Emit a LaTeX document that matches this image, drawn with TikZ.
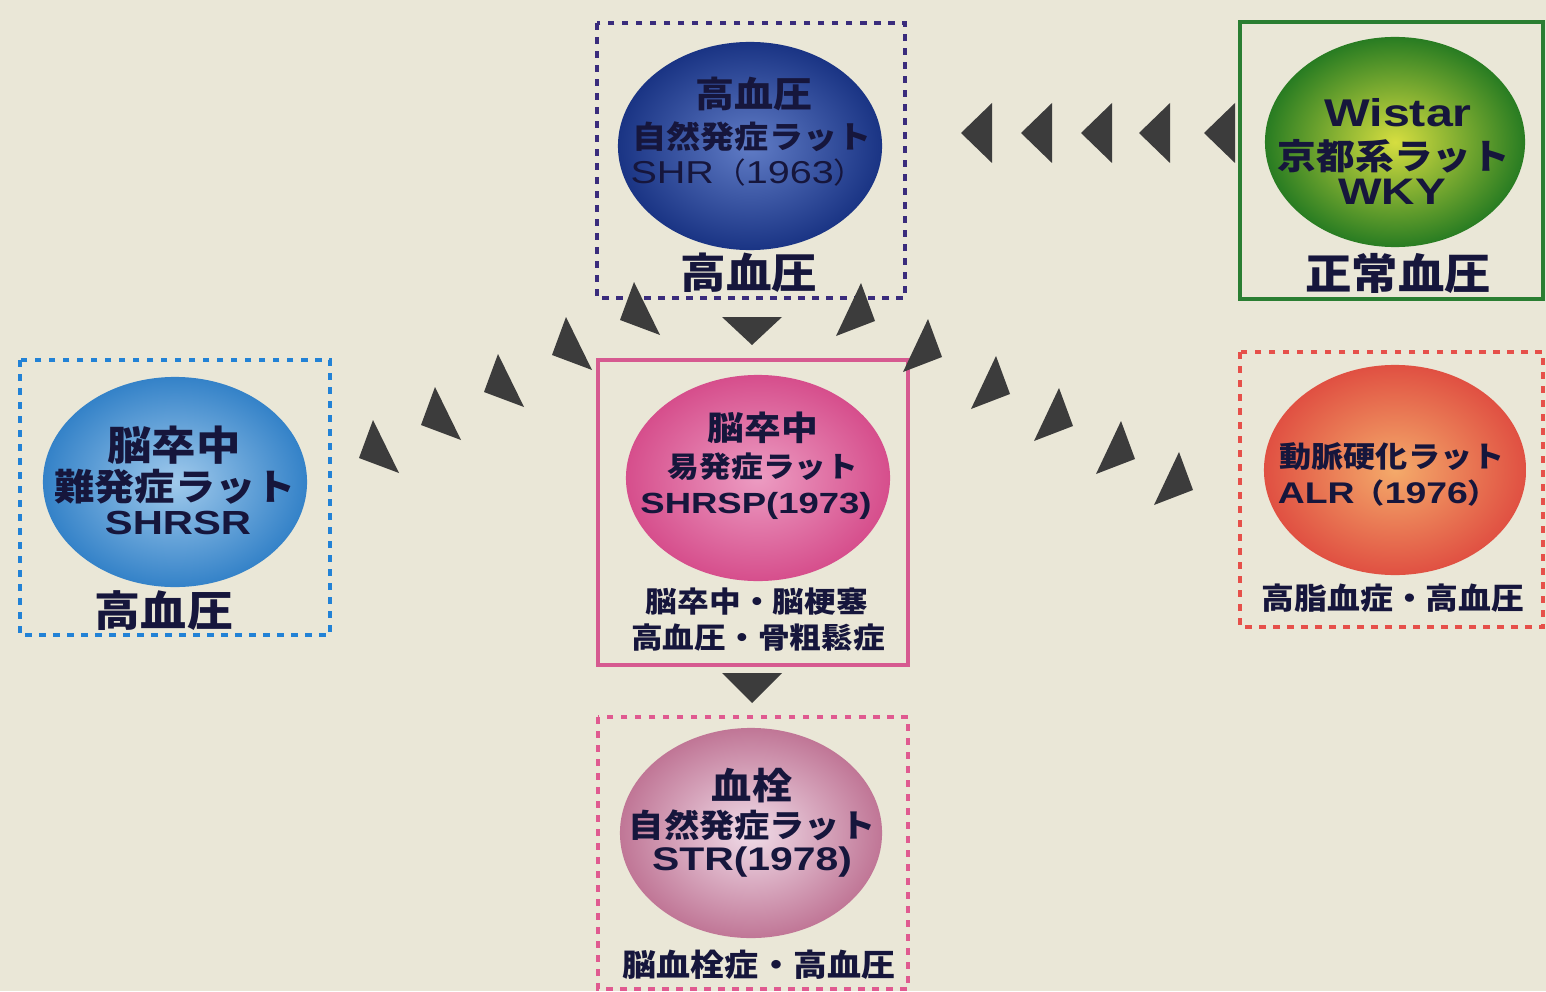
\documentclass[tikz,border=0pt]{standalone}
\usepackage{fontspec}
\usetikzlibrary{shapes.geometric}
\newfontfamily\jp[FakeStretch=1.1]{Noto Sans CJK JP}
\newfontfamily\lat[FakeStretch=1.25]{Liberation Sans}
\newcommand\jpb[1]{\jp\bfseries\fontsize{#1}{#1}\selectfont}
\newcommand\jpr[1]{\jp\fontsize{#1}{#1}\selectfont}
\newcommand\latb[1]{\lat\bfseries\fontsize{#1}{#1}\selectfont}
\newcommand\latr[1]{\lat\fontsize{#1}{#1}\selectfont}
\definecolor{paper}{HTML}{EAE7D7}
\definecolor{ink}{HTML}{16163C}
\definecolor{arrowgray}{HTML}{3C3C3C}
\definecolor{shrline}{HTML}{3A2C7C}
\definecolor{wkyline}{HTML}{2A7E32}
\definecolor{srline}{HTML}{2282D6}
\definecolor{spline}{HTML}{D65A90}
\definecolor{alrline}{HTML}{E6504A}
\definecolor{strline}{HTML}{E05A90}
\begin{document}
\begin{tikzpicture}[x=0.01cm,y=-0.01cm,
    ball/.style={ellipse,shade,inner sep=0pt},
    txt/.style={text=ink,inner sep=0pt},
    frame/.style={line width=0.045cm},
    dots/.style={frame,dash pattern=on 0.065cm off 0.075cm},
    tri/.style={fill=arrowgray}]
    \fill[paper] (0,0) rectangle (1546,991);
    \useasboundingbox (0,0) rectangle (1546,991);

    % Rahmen
    \draw[dots,shrline] (597,23) rectangle (905,298);
    \draw[frame,wkyline] (1240,22) rectangle (1543,299);
    \draw[dots,srline] (20,360) rectangle (330,635);
    \draw[frame,spline] (598,360) rectangle (908,665);
    \draw[dots,alrline] (1240,352) rectangle (1543,627);
    \draw[dots,strline] (598,717) rectangle (908,989);

    % Kugeln
    \node[ball,minimum width=2.64cm,minimum height=2.08cm,inner color={rgb,255:red,96;green,124;blue,198},outer color={rgb,255:red,26;green,52;blue,132}] (shr) at (750,146) {};
    \node[ball,minimum width=2.60cm,minimum height=2.10cm,inner color={rgb,255:red,214;green,222;blue,64},outer color={rgb,255:red,40;green,124;blue,34}] (wky) at (1395,142) {};
    \node[ball,minimum width=2.64cm,minimum height=2.10cm,inner color={rgb,255:red,160;green,202;blue,236},outer color={rgb,255:red,52;green,130;blue,200}] (shrsr) at (175,482) {};
    \node[ball,minimum width=2.64cm,minimum height=2.06cm,inner color={rgb,255:red,236;green,156;blue,194},outer color={rgb,255:red,214;green,78;blue,140}] (shrsp) at (758,478) {};
    \node[ball,minimum width=2.62cm,minimum height=2.10cm,inner color={rgb,255:red,244;green,170;blue,106},outer color={rgb,255:red,224;green,80;blue,66}] (alr) at (1395,470) {};
    \node[ball,minimum width=2.62cm,minimum height=2.10cm,inner color={rgb,255:red,240;green,220;blue,232},outer color={rgb,255:red,192;green,118;blue,150}] (str) at (751,833) {};

    % SHR
    \node[txt,font=\jpb{10.1}] (shr-a) at (754,94) {高血圧};
    \node[txt,font=\jpb{8.8}] (shr-b) at (752,137) {自然発症ラット};
    \node[txt,font=\latr{9}] (shr-c) at (748,173) {SHR{\jpr{8.2}（}1963{\jpr{8.2}）}};
    \node[txt,font=\jpb{11.8}] (shr-d) at (749,273) {高血圧};

    % WKY
    \node[txt,font=\latb{11}] (wky-a) at (1398,113) {Wistar};
    \node[txt,font=\jpb{10}] (wky-b) at (1394,156) {京都系ラット};
    \node[txt,font=\latb{10.5}] (wky-c) at (1392,192) {WKY};
    \node[txt,font=\jpb{12}] (wky-d) at (1398,273) {正常血圧};

    % SHRSR
    \node[txt,font=\jpb{11.5}] (sr-a) at (174,445) {脳卒中};
    \node[txt,font=\jpb{10.4}] (sr-b) at (175,487) {難発症ラット};
    \node[txt,font=\latb{9.5}] (sr-c) at (178,523) {SHRSR};
    \node[txt,font=\jpb{11.9}] (sr-d) at (164,611) {高血圧};

    % SHRSP
    \node[txt,font=\jpb{9.5}] (sp-a) at (763,428) {脳卒中};
    \node[txt,font=\jpb{8.2}] (sp-b) at (763,467) {易発症ラット};
    \node[txt,font=\latb{8.3}] (sp-c) at (756,506) {SHRSP(1973)};
    \node[txt,font=\jpb{8.2}] (sp-d) at (757,602) {脳卒中・脳梗塞};
    \node[txt,font=\jpb{8.2}] (sp-e) at (758,638) {高血圧・骨粗鬆症};

    % ALR
    \node[txt,font=\jpb{8.3}] (alr-a) at (1392,457) {動脈硬化ラット};
    \node[txt,font=\latb{8.5}] (alr-b) at (1388,493) {ALR{\jpr{7.8}（}1976{\jpr{7.8}）}};
    \node[txt,font=\jpb{8.5}] (alr-c) at (1393,598) {高脂血症・高血圧};

    % STR
    \node[txt,font=\jpb{10.4}] (str-a) at (752,786) {血栓};
    \node[txt,font=\jpb{9.1}] (str-b) at (752,825) {自然発症ラット};
    \node[txt,font=\latb{9.3}] (str-c) at (752,862) {STR(1978)};
    \node[txt,font=\jpb{8.8}] (str-d) at (759,965) {脳血栓症・高血圧};

    % Pfeile
    \foreach \x in {961,1021,1081,1139,1204}
        \fill[tri] (\x,133) -- ++(31,-30) -- ++(0,60) -- cycle;
    \fill[tri] (722,317) -- (782,317) -- (752,345) -- cycle;
    \fill[tri] (722,673) -- (782,673) -- (752,703) -- cycle;
    \foreach \x/\y in {373/420,435/387,498/354,566/317,634/282}
        \fill[tri] (\x,\y) -- ++(-14,38) -- ++(40,15) -- cycle;
    \foreach \x/\y in {861/283,928/319,996/356,1059/388,1121/421,1179/452}
        \fill[tri] (\x,\y) -- ++(-25,53) -- ++(39,-15) -- cycle;
\end{tikzpicture}
\end{document}
